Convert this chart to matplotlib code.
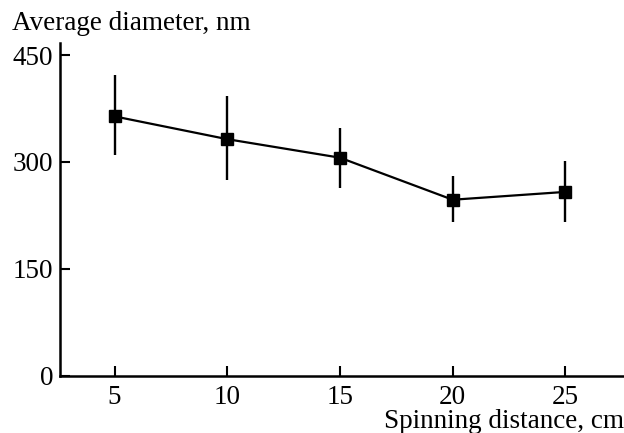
import matplotlib
matplotlib.use("Agg")
import matplotlib.pyplot as plt
import numpy as np

# Data
distance = [5, 10, 15, 20, 25]
diameter = [364, 332, 306, 247, 258]
err_low = [54, 58, 42, 31, 42]
err_high = [58, 60, 41, 34, 44]
xticks = [5, 10, 15, 20, 25]
yticks = [0, 150, 300, 450]

plt.rcParams['font.family'] = ['Liberation Serif', 'DejaVu Serif']
plt.rcParams['font.size'] = 19.5

fig = plt.figure(figsize=(6.24, 4.33), dpi=100)
ax = fig.add_axes([60/624, 1 - 375.7/433, 1 - 60/624, (375.7 - 43)/433])

ax.errorbar(distance, diameter, yerr=[err_low, err_high], color='black',
            lw=1.6, elinewidth=1.7, capsize=0, marker='s', ms=9,
            markerfacecolor='black', markeredgecolor='black')

ax.set_xlim(2.58, 27.6)
ax.set_ylim(0, 467)
ax.set_xticks(xticks)
ax.set_yticks(yticks)
ax.spines['top'].set_visible(False)
ax.spines['right'].set_visible(False)
for s in ['left', 'bottom']:
    ax.spines[s].set_linewidth(1.8)
ax.tick_params(direction='in', length=7, width=1.5, pad=5)
ax.tick_params(axis='x', pad=7)

fig.text(12/624, 1 - 30/433, 'Average diameter, nm', ha='left', va='baseline')
fig.text(1.0, 1 - 428/433, 'Spinning distance, cm', ha='right', va='baseline')

fig.savefig('out.png', dpi=100)
